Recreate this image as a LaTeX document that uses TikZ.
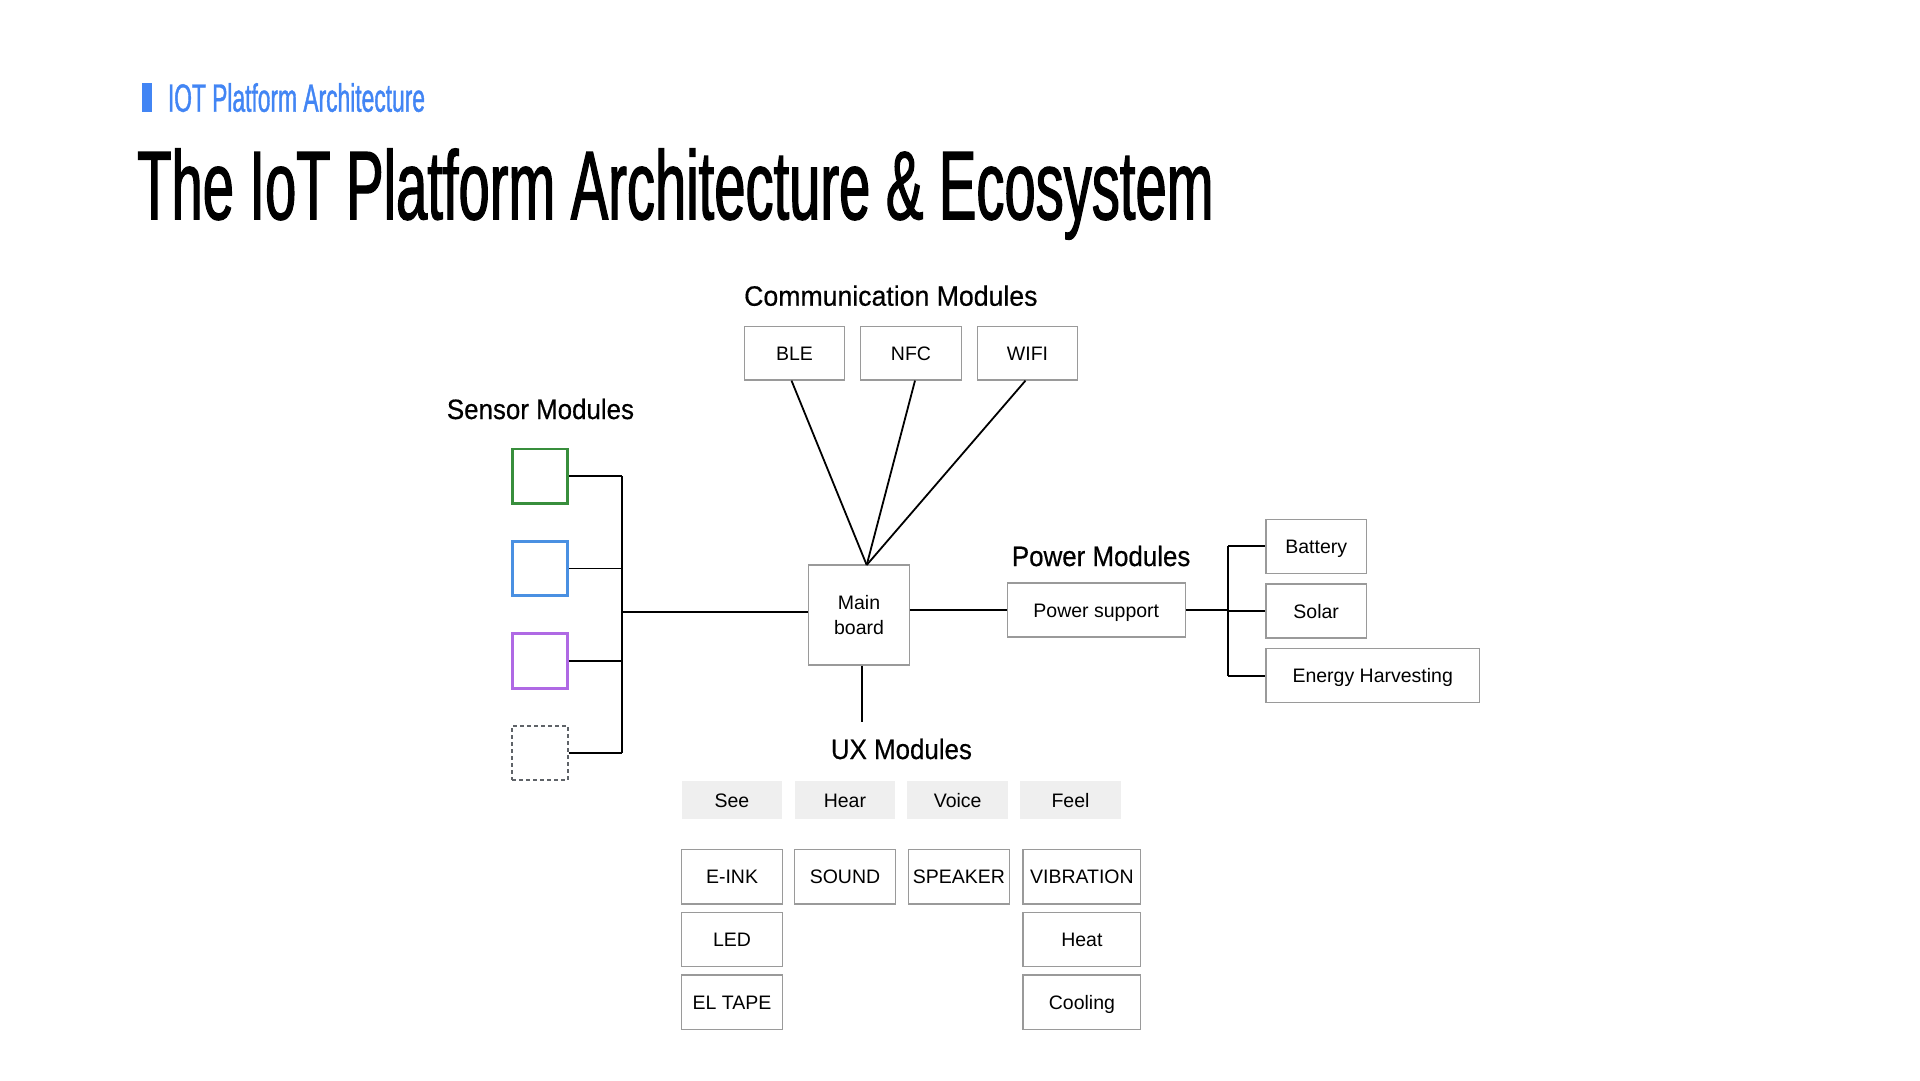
\documentclass[tikz,border=0pt]{standalone}
\usepackage{fontspec}
\setmainfont{Liberation Sans}
\newfontfamily\myTitleFam[FakeStretch=0.574,FakeBold=1.2]{Liberation Sans}
\newfontfamily\mySubFam[FakeStretch=0.577,FakeBold=1]{Liberation Sans}
\newfontfamily\myHeadFam[FakeStretch=0.925,FakeBold=0.5]{Liberation Sans}
\newfontfamily\myHeadFamW[FakeStretch=0.952,FakeBold=0.5]{Liberation Sans}
\newcommand\myHeadFont{\myHeadFam\fontsize{28}{32}\selectfont}
\newcommand\myBoxFont{\fontsize{19.5}{24.3}\selectfont}
\definecolor{gblue}{HTML}{4285F4}
\definecolor{sqgreen}{HTML}{388E3C}
\definecolor{sqblue}{HTML}{4A90E2}
\definecolor{sqpurple}{RGB}{175,105,228}
\definecolor{sqgray}{HTML}{5F6368}
\definecolor{boxgray}{HTML}{9A9A9A}
\definecolor{catgray}{HTML}{EFEFEF}
\tikzset{
  box/.style={draw=boxgray, line width=1.3pt, fill=white, inner sep=0pt, font=\myBoxFont, align=center},
  capc/.style={text height=14pt, text depth=0pt},
  cat/.style={fill=catgray, inner sep=0pt, font=\myBoxFont, capc, minimum width=100.5pt, minimum height=38.3pt},
  sq/.style={minimum width=55.5pt, minimum height=54.5pt, line width=2.7pt, inner sep=0pt, fill=white},
  link/.style={line width=1.8pt, black},
  head/.style={anchor=base west, inner sep=0pt, font=\myHeadFont},
  ux/.style={box, capc, minimum width=100.5pt, minimum height=54.5pt},
}
\begin{document}
\begin{tikzpicture}[x=1pt,y=-1pt]
\useasboundingbox (0,0) rectangle (1920,1080);
% header
\fill[gblue] (141.7,83.3) rectangle (152.3,111.7);
\node[anchor=base west, inner sep=0pt, text=gblue, font=\mySubFam\fontsize{39.5}{44}\selectfont] (sub) at (167.7,111.7) {IOT Platform Architecture};
\node[anchor=base west, inner sep=0pt, font=\myTitleFam\fontsize{97.8}{110}\selectfont] (title) at (137,219.3) {The IoT Platform Architecture \& Ecosystem};
% headings
\node[head, font=\myHeadFamW\fontsize{28}{32}\selectfont] (hcomm) at (744,305.7) {Communication Modules};
\node[head] (hsens) at (446.7,419) {Sensor Modules};
\node[head] (hpow) at (1011.7,566) {Power Modules};
\node[head] (hux) at (830.7,759) {UX Modules};
% communication
\node[box, capc, minimum width=100.4pt, minimum height=53.3pt] (ble) at (794.5,353.3) {BLE};
\node[box, capc, minimum width=100.4pt, minimum height=53.3pt] (nfc) at (911,353.3) {NFC};
\node[box, capc, minimum width=100.4pt, minimum height=53.3pt] (wifi) at (1027.5,353.3) {WIFI};
% main board
\node[box, minimum width=100.6pt, minimum height=100pt] (mb) at (859,615) {Main\\board};
\coordinate (hub) at (866.7,565);
\draw[link] ([xshift=-3pt]ble.south) -- (hub);
\draw[link] ([xshift=4pt]nfc.south) -- (hub);
\draw[link] ([xshift=-2pt]wifi.south) -- (hub);
% sensors
\node[sq, draw=sqgreen] (s1) at (540,476.2) {};
\node[sq, draw=sqblue] (s2) at (540,568.5) {};
\node[sq, draw=sqpurple] (s3) at (540,661) {};
\node[sq, draw=sqgray, line width=1.8pt, dash pattern=on 4pt off 3pt] (s4) at (540,753) {};
\coordinate (busx) at (621.7,0);
\draw[link] (s1.east) -- (s1.east -| busx);
\draw[link] (s2.east) -- (s2.east -| busx);
\draw[link] (s3.east) -- (s3.east -| busx);
\draw[link] (s4.east) -- (s4.east -| busx);
\draw[link] (s1.east -| busx) -- (s4.east -| busx);
\coordinate (mbin) at ([yshift=3pt]mb.west);
\draw[link] (mbin -| busx) -- (mbin);
% power
\node[box, capc, minimum width=178pt, minimum height=54pt] (ps) at (1096.3,610) {Power support};
\draw[link] (ps.west -| mb.east) -- (ps.west);
\node[box, capc, minimum width=100.3pt, minimum height=54pt] (bat) at (1316.2,546.3) {Battery};
\node[box, capc, minimum width=100.3pt, minimum height=54pt] (sol) at (1316.2,611) {Solar};
\node[box, capc, minimum width=213.3pt, minimum height=54pt] (eh) at (1372.7,675.7) {Energy Harvesting};
\coordinate (pbus) at (1228.2,0);
\draw[link] (ps.east) -- (ps.east -| pbus);
\draw[link] (bat.west -| pbus) -- (eh.west -| pbus);
\draw[link] (bat.west -| pbus) -- (bat.west);
\draw[link] (sol.west -| pbus) -- (sol.west);
\draw[link] (eh.west -| pbus) -- (eh.west);
% UX
\coordinate (uxend) at (861.7,722.3);
\draw[link] (mb.south -| uxend) -- (uxend);
\node[cat] (see) at (731.9,800.2) {See};
\node[cat] (hear) at (844.9,800.2) {Hear};
\node[cat] (voice) at (957.7,800.2) {Voice};
\node[cat] (feel) at (1070.5,800.2) {Feel};
\node[ux] (eink) at (732,876.7) {E-INK};
\node[ux] (led) at (732,939.5) {LED};
\node[ux] (eltape) at (732,1002.2) {EL TAPE};
\node[ux] (sound) at (845,876.7) {SOUND};
\node[ux] (speaker) at (959,876.7) {SPEAKER};
\node[ux, minimum width=117.7pt] (vib) at (1081.9,876.7) {VIBRATION};
\node[ux, minimum width=117.7pt] (heat) at (1081.9,939.5) {Heat};
\node[ux, minimum width=117.7pt] (cool) at (1081.9,1002.2) {Cooling};
\end{tikzpicture}
\end{document}
